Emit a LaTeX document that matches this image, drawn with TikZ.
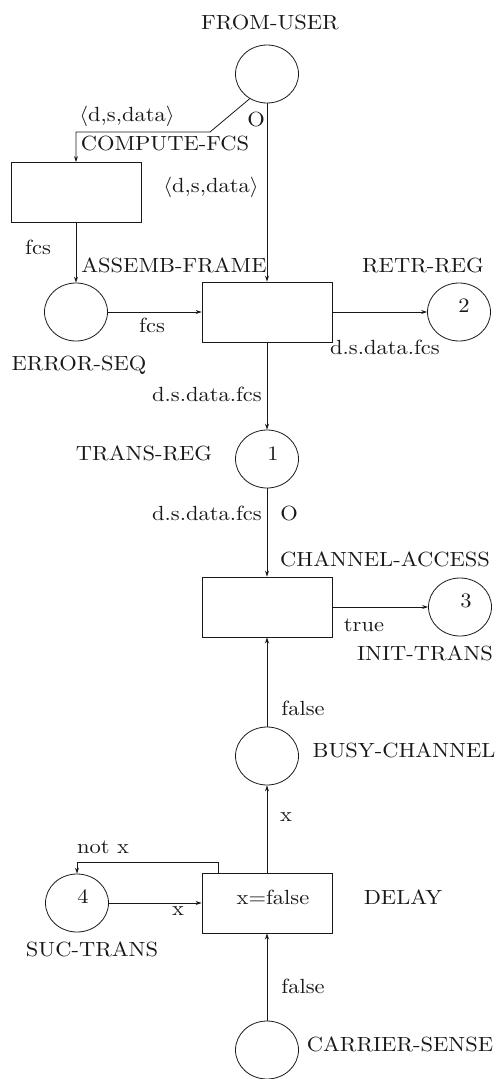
\documentclass[tikz,border=0pt]{standalone}
\usepackage{graphicx}
\usetikzlibrary{shapes.geometric,arrows.meta}
\definecolor{ink}{RGB}{25,25,25}
\newcommand{\lb}[1]{\scalebox{2.25}[2.05]{#1}}
\tikzset{
  place/.style={ellipse,draw=ink,line width=0.8pt,minimum width=63pt,minimum height=58pt,inner sep=0pt},
  trans/.style={rectangle,draw=ink,line width=0.9pt,minimum width=130pt,minimum height=60pt,inner sep=0pt},
  arc/.style={draw=ink,line width=0.8pt,-{Stealth[length=6pt,width=4pt]}},
  lbl/.style={inner sep=0pt,text=ink},
}
\begin{document}
\begin{tikzpicture}[x=1pt,y=-1pt]
\useasboundingbox (0,0) rectangle (496,1079);

% places
\node[place] (fromuser) at (267,74) {};
\node[place] (errseq) at (76,312) {};
\node[place] (retr) at (459,312) {};
\node[place] (transreg) at (267,459) {};
\node[place] (inittr) at (460,607) {};
\node[place] (busy) at (267,756) {};
\node[place] (suc) at (77,903) {};
\node[place] (carrier) at (267,1050) {};

% transitions
\node[trans] (compfcs) at (76,192.5) {};
\node[trans] (assemb) at (267,312) {};
\node[trans] (chacc) at (267,607) {};
\node[trans] (delay) at (267,903) {};

% tokens and guard
\node[lbl] (tok2) at (464,306) {\lb{2}};
\node[lbl] (tok1) at (273,454) {\lb{1}};
\node[lbl] (tok3) at (466,601) {\lb{3}};
\node[lbl] (tok4) at (83,897) {\lb{4}};
\node[lbl] (guard) at (273,897) {\lb{x=false}};

% names of places and transitions
\node[lbl] (nfromuser) at (270,22) {\lb{FROM-USER}};
\node[lbl] (ncompfcs) at (165,143) {\lb{COMPUTE-FCS}};
\node[lbl] (nassemb) at (174,265) {\lb{ASSEMB-FRAME}};
\node[lbl] (nretr) at (423,265) {\lb{RETR-REG}};
\node[lbl] (nerrseq) at (79,365) {\lb{ERROR-SEQ}};
\node[lbl] (ntransreg) at (144,453) {\lb{TRANS-REG}};
\node[lbl] (nchacc) at (385,559) {\lb{CHANNEL-ACCESS}};
\node[lbl] (ninittr) at (425,653) {\lb{INIT-TRANS}};
\node[lbl] (nbusy) at (404,750) {\lb{BUSY-CHANNEL}};
\node[lbl] (ndelay) at (403,897) {\lb{DELAY}};
\node[lbl] (nsuc) at (92,949) {\lb{SUC-TRANS}};
\node[lbl] (ncarrier) at (400,1044) {\lb{CARRIER-SENSE}};

% arcs
\coordinate (bend1) at (210,132);
\draw[arc] (fromuser.-125) -- (bend1) -| (compfcs.north);
\node[lbl] at (127,116) {\lb{$\langle$d,s,data$\rangle$}};
\node[lbl] at (256,119) {\lb{O}};

\draw[arc] (fromuser.south) -- (assemb.north);
\node[lbl] at (211,187) {\lb{$\langle$d,s,data$\rangle$}};

\draw[arc] (compfcs.south) -- (errseq.north);
\node[lbl] at (38,247) {\lb{fcs}};

\draw[arc] (errseq.east) -- (assemb.west);
\node[lbl] at (152,325) {\lb{fcs}};

\draw[arc] (assemb.east) -- (retr.west);
\node[lbl] at (385,347) {\lb{d.s.data.fcs}};

\draw[arc] (assemb.south) -- (transreg.north);
\node[lbl] at (207,394) {\lb{d.s.data.fcs}};

\draw[arc] (transreg.south) -- (chacc.north);
\node[lbl] at (207,513) {\lb{d.s.data.fcs}};
\node[lbl] at (289,513) {\lb{O}};

\draw[arc] (chacc.east) -- (inittr.west);
\node[lbl] at (364,625) {\lb{true}};

\draw[arc] (busy.north) -- (chacc.south);
\node[lbl] at (303,708) {\lb{false}};

\draw[arc] (delay.north) -- (busy.south);
\node[lbl] at (286,817) {\lb{x}};

\draw[arc] (suc.east) -- (delay.west);
\node[lbl] at (178,911) {\lb{x}};

\coordinate (loopstart) at (218,873);
\draw[arc] (loopstart) -- (218,862) -| (suc.north);
\node[lbl] at (103,847) {\lb{not x}};

\draw[arc] (carrier.north) -- (delay.south);
\node[lbl] at (303,986) {\lb{false}};
\end{tikzpicture}
\end{document}
